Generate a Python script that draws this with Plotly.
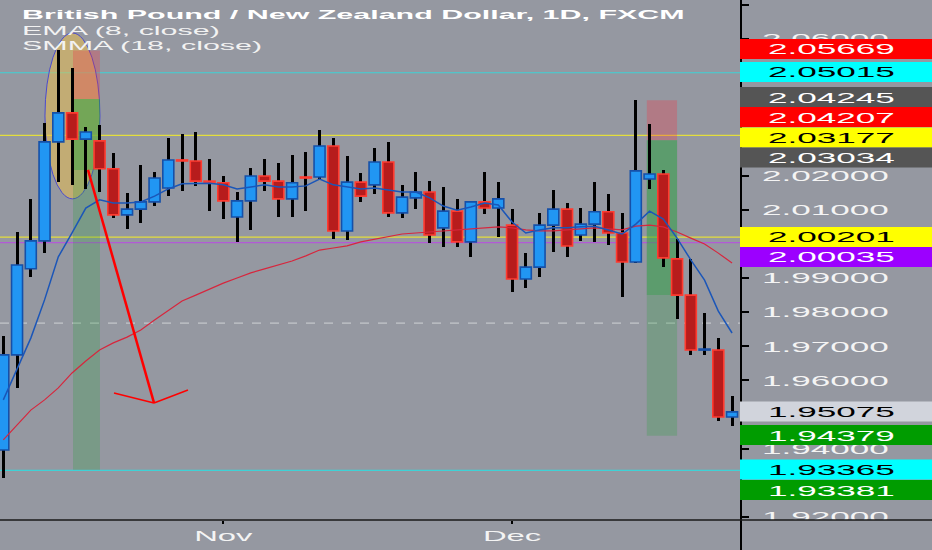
import plotly.graph_objects as go

# ---------------- data ----------------
opens = [1.9396, 1.9675, 1.9927, 2.0009, 2.0299, 2.0384, 2.0307, 2.0302, 2.0220, 2.0085,
         2.0102, 2.0123, 2.0164, 2.0246, 2.0243, 2.0184, 2.0179, 2.0079, 2.0126, 2.0199,
         2.0184, 2.0132, 2.0196, 2.0196, 2.0287, 2.0038, 2.0181, 2.0173, 2.0240, 2.0091,
         2.0135, 2.0152, 2.0047, 2.0096, 2.0006, 2.0123, 2.0105, 2.0055, 1.9897, 1.9932,
         2.0055, 2.0102, 2.0026, 2.0058, 2.0094, 2.0032, 1.9947, 2.0190, 2.0205, 1.9956,
         1.9850, 1.9689, 1.9689, 1.9493]
highs = [1.9730, 2.0035, 2.0132, 2.0354, 2.0567, 2.0515, 2.0343, 2.0348, 2.0266, 2.0149,
         2.0231, 2.0211, 2.0310, 2.0322, 2.0328, 2.0249, 2.0199, 2.0152, 2.0222, 2.0249,
         2.0237, 2.0261, 2.0269, 2.0334, 2.0310, 2.0258, 2.0208, 2.0281, 2.0299, 2.0173,
         2.0211, 2.0184, 2.0167, 2.0132, 2.0126, 2.0211, 2.0181, 2.0102, 1.9973, 2.0091,
         2.0158, 2.0120, 2.0105, 2.0181, 2.0146, 2.0091, 2.0421, 2.0351, 2.0217, 2.0014,
         1.9956, 1.9798, 1.9724, 1.9554]
lows = [1.9314, 1.9578, 1.9903, 1.9973, 2.0181, 2.0173, 2.0161, 2.0152, 2.0076, 2.0044,
        2.0061, 2.0111, 2.0140, 2.0155, 2.0170, 2.0096, 2.0073, 2.0006, 2.0041, 2.0155,
        2.0079, 2.0079, 2.0096, 2.0190, 2.0014, 2.0012, 2.0123, 2.0146, 2.0079, 2.0076,
        2.0102, 2.0003, 1.9991, 1.9991, 1.9962, 2.0088, 2.0020, 1.9859, 1.9871, 1.9903,
        1.9976, 1.9962, 2.0009, 2.0006, 1.9997, 1.9844, 1.9945, 2.0161, 1.9932, 1.9780,
        1.9675, 1.9675, 1.9481, 1.9467]
closes = [1.9675, 1.9938, 2.0009, 2.0299, 2.0384, 2.0307, 2.0328, 2.0220, 2.0085, 2.0102,
          2.0123, 2.0193, 2.0246, 2.0243, 2.0184, 2.0181, 2.0126, 2.0126, 2.0199, 2.0184,
          2.0132, 2.0179, 2.0193, 2.0287, 2.0038, 2.0181, 2.0140, 2.0240, 2.0091, 2.0137,
          2.0152, 2.0026, 2.0096, 2.0006, 2.0123, 2.0105, 2.0132, 1.9897, 1.9932, 2.0055,
          2.0102, 1.9994, 2.0058, 2.0094, 2.0032, 1.9947, 2.0214, 2.0205, 1.9959, 1.9850,
          1.9689, 1.9692, 1.9493, 1.9508]
ema8 = [1.9543, 1.9631, 1.9724, 1.9836, 1.9962, 2.0032, 2.0105, 2.0129, 2.0120, 2.0120,
        2.0123, 2.0140, 2.0161, 2.0176, 2.0178, 2.0178, 2.0173, 2.0161, 2.0167, 2.0173,
        2.0167, 2.0167, 2.0170, 2.0190, 2.0173, 2.0167, 2.0161, 2.0164, 2.0158, 2.0152,
        2.0152, 2.0135, 2.0111, 2.0099, 2.0108, 2.0120, 2.0114, 2.0064, 2.0032, 2.0041,
        2.0047, 2.0047, 2.0050, 2.0052, 2.0041, 2.0029, 2.0058, 2.0096, 2.0073, 2.0017,
        1.9953, 1.9894, 1.9803, 1.9739]
smma18 = [1.9426, 1.9469, 1.9513, 1.9543, 1.9578, 1.9622, 1.9657, 1.9689, 1.9710, 1.9727,
          1.9748, 1.9777, 1.9806, 1.9833, 1.9850, 1.9868, 1.9885, 1.9900, 1.9915, 1.9927,
          1.9938, 1.9950, 1.9965, 1.9982, 1.9988, 1.9994, 2.0006, 2.0014, 2.0023, 2.0029,
          2.0032, 2.0035, 2.0038, 2.0041, 2.0044, 2.0047, 2.0050, 2.0047, 2.0041, 2.0038,
          2.0038, 2.0041, 2.0044, 2.0047, 2.0044, 2.0041, 2.0052, 2.0055, 2.0050, 2.0035,
          2.0017, 2.0000, 1.9973, 1.9944]

x_tick_vals = [16, 37]
x_tick_text = ["Nov", "Dec"]
y_tick_vals = [2.07, 2.06, 2.02, 2.01, 1.99, 1.98, 1.97, 1.96, 1.94, 1.92]

h_line_values = [2.05015, 2.03177, 2.00201, 2.00035, 1.93365]
h_line_colors = ["#3fd2d6", "#e4de3c", "#e4de3c", "#b25ad6", "#3fd2d6"]
dashed_value = 1.9768

label_values = [2.05669, 2.05015, 2.04245, 2.04207, 2.03177, 2.03034,
                2.00201, 2.00035, 1.95075, 1.94379, 1.93365, 1.93381]
label_centers = [2.05711, 2.05037, 2.04304, 2.03718, 2.03118, 2.02532,
                 2.00203, 1.99617, 1.95090, 1.94401, 1.93390, 1.92790]
label_bg = ["#ff0000", "#00ffff", "#555555", "#ff0000", "#ffff00", "#555555",
            "#ffff00", "#9c00ff", "#d1d4dc", "#009c00", "#00ffff", "#009c00"]
label_fg = ["#ffffff", "#000000", "#ffffff", "#ffffff", "#000000", "#ffffff",
            "#000000", "#ffffff", "#000000", "#ffffff", "#000000", "#ffffff"]

# position tools: [x0, x1, stop, entry, reached, target]
positions = [
    [5.07, 7.03, 2.05669, 2.04245, 2.02166, 1.93381],
    [46.8, 49.0, 2.04207, 2.03034, 1.98503, 1.94379],
]
ellipse_box = [3.03, 7.03, 2.0132, 2.0618]
arrow_shaft = [(6.16, 2.0217), (10.96, 1.9534)]
arrow_head = [(8.05, 1.9563), (10.96, 1.9534), (13.43, 1.9572)]

# ---------------- figure ----------------
BG = "#9598a1"
X_RANGE = [-0.24, 53.65]
Y_RANGE = [1.91911, 2.07146]
n = len(opens)
xs = list(range(n))

fig = go.Figure()

# wicks
fig.add_trace(go.Bar(
    x=xs, base=lows, y=[h - l for h, l in zip(highs, lows)],
    width=0.22, marker=dict(color="#000000", line=dict(width=0)),
    hoverinfo="skip", showlegend=False))

# bodies
up = [c >= o for o, c in zip(opens, closes)]
fig.add_trace(go.Bar(
    x=xs, base=[min(o, c) for o, c in zip(opens, closes)],
    y=[max(abs(c - o), 0.00025) for o, c in zip(opens, closes)],
    width=0.8,
    marker=dict(color=["#2196f3" if u else "#b71c1c" for u in up],
                line=dict(color=["#1650a8" if u else "#ff3b30" for u in up], width=1.6)),
    hoverinfo="skip", showlegend=False))

fig.add_trace(go.Scatter(x=xs, y=smma18, mode="lines",
                         line=dict(color="#d7263d", width=1.2), hoverinfo="skip", showlegend=False))
fig.add_trace(go.Scatter(x=xs, y=ema8, mode="lines",
                         line=dict(color="#1b56b8", width=1.5), hoverinfo="skip", showlegend=False))

shapes = []
# horizontal levels
for v, c in zip(h_line_values, h_line_colors):
    shapes.append(dict(type="line", xref="paper", yref="y", x0=0, x1=1, y0=v, y1=v,
                       line=dict(color=c, width=1.2), layer="below"))
shapes.append(dict(type="line", xref="paper", yref="y", x0=0, x1=1, y0=dashed_value, y1=dashed_value,
                   line=dict(color="#d0d2d6", width=1, dash="dash"), layer="below"))
# ellipse
shapes.append(dict(type="circle", xref="x", yref="y", x0=ellipse_box[0], x1=ellipse_box[1],
                   y0=ellipse_box[2], y1=ellipse_box[3],
                   fillcolor="rgba(232,190,80,0.55)", line=dict(color="#4a4ad0", width=1), layer="below"))
# position tools
for x0, x1, stop, entry, reached, target in positions:
    shapes.append(dict(type="rect", xref="x", yref="y", x0=x0, x1=x1, y0=entry, y1=stop,
                       fillcolor="rgba(242,54,69,0.30)", line=dict(width=0), layer="below"))
    shapes.append(dict(type="rect", xref="x", yref="y", x0=x0, x1=x1, y0=target, y1=entry,
                       fillcolor="rgba(40,160,60,0.25)", line=dict(width=0), layer="below"))
    shapes.append(dict(type="rect", xref="x", yref="y", x0=x0, x1=x1, y0=reached, y1=entry,
                       fillcolor="rgba(40,160,60,0.35)", line=dict(width=0), layer="below"))
# arrow
shapes.append(dict(type="line", xref="x", yref="y",
                   x0=arrow_shaft[0][0], y0=arrow_shaft[0][1], x1=arrow_shaft[1][0], y1=arrow_shaft[1][1],
                   line=dict(color="#ff0000", width=2.5), layer="above"))
for a, b in zip(arrow_head[:-1], arrow_head[1:]):
    shapes.append(dict(type="line", xref="x", yref="y", x0=a[0], y0=a[1], x1=b[0], y1=b[1],
                       line=dict(color="#ff0000", width=1.5), layer="above"))

# axis frame lines
PX = 1 / 741.0
PY = 1 / 520.0
shapes.append(dict(type="rect", xref="paper", yref="paper", x0=1.0, x1=932 * PX, y0=-30 * PY, y1=0,
                   fillcolor=BG, line=dict(width=0), layer="above"))
shapes.append(dict(type="line", xref="paper", yref="paper", x0=1.0, x1=1.0, y0=-30 * PY, y1=1,
                   line=dict(color="#000000", width=2), layer="above"))
shapes.append(dict(type="line", xref="paper", yref="paper", x0=0, x1=932 * PX, y0=0, y1=0,
                   line=dict(color="#1a1a1a", width=1.5), layer="above"))
# price labels
HALF = 10 / 3413.0
for c, bgc in zip(label_centers, label_bg):
    shapes.append(dict(type="rect", xref="paper", yref="y", x0=740 * PX, x1=932 * PX,
                       y0=c - HALF, y1=c + HALF, fillcolor=bgc, line=dict(width=0), layer="above"))

annotations = []
for v, c, fg in zip(label_values, label_centers, label_fg):
    annotations.append(dict(xref="paper", yref="y", x=766 * PX, y=c, xanchor="left", yanchor="middle",
                            align="left", showarrow=False, text=f"{v:.5f}",
                            font=dict(family="Liberation Sans", size=15, color=fg)))
legend_lines = [("<b>British Pound / New Zealand Dollar, 1D, FXCM</b>", 14.5, "#ffffff"),
                ("EMA (8, close)", 30.0, "#f2f2f2"),
                ("SMMA (18, close)", 45.5, "#f2f2f2")]
for txt, ypx, col in legend_lines:
    annotations.append(dict(xref="paper", yref="paper", x=20 * PX, y=1 - ypx * PY,
                            xanchor="left", yanchor="middle", align="left", showarrow=False,
                            text=txt, font=dict(family="Liberation Sans", size=13, color=col)))

fig.update_layout(
    width=932, height=550, autosize=False,
    margin=dict(l=0, r=191, t=0, b=30, pad=0),
    paper_bgcolor=BG, plot_bgcolor=BG,
    barmode="overlay", bargap=0,
    showlegend=False, hovermode=False,
    shapes=shapes, annotations=annotations,
    xaxis=dict(range=X_RANGE, tickvals=x_tick_vals, ticktext=x_tick_text,
               showgrid=False, zeroline=False, showline=False,
               ticks="outside", ticklen=3, tickwidth=2, tickcolor="#000000",
               tickfont=dict(family="Liberation Sans", size=14, color="#f4f4f4"),
               fixedrange=True),
    yaxis=dict(range=Y_RANGE, side="right", tickvals=y_tick_vals,
               ticktext=[f"{v:.5f}" for v in y_tick_vals],
               showgrid=False, zeroline=False, showline=False,
               ticks="outside", ticklen=7, tickwidth=2, tickcolor="#000000",
               ticklabelstandoff=10,
               tickfont=dict(family="Liberation Sans", size=15, color="#f4f4f4"),
               fixedrange=True),
)

page_js = """
document.body.style.margin = '0';
document.body.style.background = '#9598a1';
var gd = document.querySelector('.plotly-graph-div');
var K = 2.34;
gd.querySelectorAll('.ytick text, .xtick text, text.annotation-text').forEach(function(t){
  var w = t.getComputedTextLength();
  if (w > 0) { t.setAttribute('lengthAdjust', 'spacingAndGlyphs'); t.setAttribute('textLength', (w * K).toFixed(1)); }
});
"""

fig.write_html("out.html", config={"displayModeBar": False, "staticPlot": True}, post_script=page_js)
